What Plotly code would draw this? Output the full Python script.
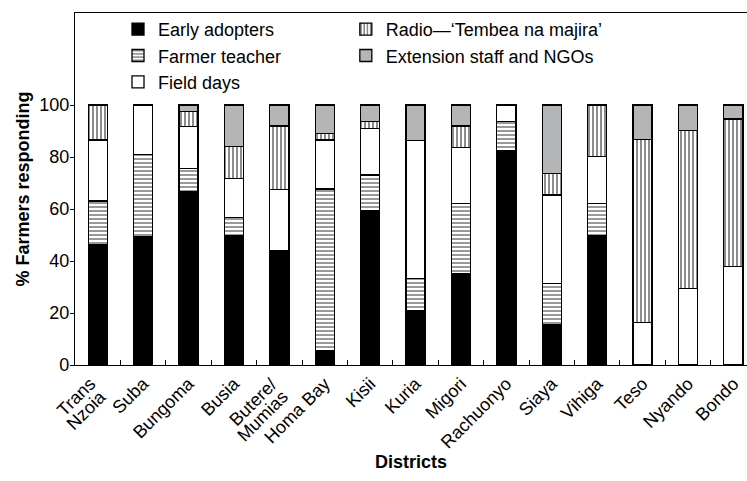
import plotly.graph_objects as go

districts = ["Trans Nzoia", "Suba", "Bungoma", "Busia", "Butere/ Mumias", "Homa Bay",
             "Kisii", "Kuria", "Migori", "Rachuonyo", "Siaya", "Vihiga", "Teso", "Nyando", "Bondo"]
# single-line tick labels; two-line labels are drawn as rotated annotations below
tick_text = ["", "Suba", "Bungoma", "Busia", "", "Homa Bay",
             "Kisii", "Kuria", "Migori", "Rachuonyo", "Siaya", "Vihiga", "Teso", "Nyando", "Bondo"]
two_line_labels = {"Trans Nzoia": ["Trans", "Nzoia"], "Butere/ Mumias": ["Butere/", "Mumias"]}

early_adopters = [46.2, 49.4, 66.7, 49.6, 44.0, 5.5, 59.2, 20.9, 35.3, 82.3, 15.4, 49.7, 0, 0, 0]
farmer_teacher = [16.9, 31.6, 8.9, 7.2, 0, 62.2, 13.9, 12.4, 26.9, 11.3, 16.0, 12.5, 0, 0, 0]
field_days = [23.4, 19.0, 16.1, 15.0, 23.6, 18.8, 17.9, 53.0, 21.4, 6.4, 34.0, 17.9, 16.3, 29.5, 37.8]
radio = [13.5, 0, 5.7, 12.2, 24.3, 2.6, 2.8, 0, 8.3, 0, 8.3, 19.9, 70.5, 60.6, 56.8]
extension = [0, 0, 2.6, 16.0, 8.1, 10.9, 6.2, 13.7, 8.1, 0, 26.3, 0, 13.2, 9.9, 5.4]

series = [
    ("Early adopters", early_adopters, dict(color="black"), "legend"),
    ("Farmer teacher", farmer_teacher,
     dict(color="white", pattern=dict(shape="-", fgcolor="black", bgcolor="white", size=4, solidity=0.4)), "legend"),
    ("Field days", field_days, dict(color="white"), "legend"),
    ("Radio\u2014\u2018Tembea na majira\u2019", radio,
     dict(color="white", pattern=dict(shape="|", fgcolor="black", bgcolor="white", size=4, solidity=0.45)), "legend2"),
    ("Extension staff and NGOs", extension, dict(color="#b3b5b7"), "legend2"),
]

fig = go.Figure()
for name, vals, marker, lg in series:
    m = dict(marker)
    m["line"] = dict(color="black", width=1.3)
    fig.add_trace(go.Bar(x=districts, y=vals, name=name, marker=m, width=0.42, legend=lg))

line_shifts = [(3, -8), (14, -20)]
for cat, lines in two_line_labels.items():
    for txt, (dx, dy) in zip(lines, line_shifts):
        fig.add_annotation(x=cat, y=0, xref="x", yref="y", text=txt, showarrow=False,
                           textangle=-45, xanchor="right", yanchor="top", xshift=dx, yshift=dy,
                           font=dict(size=18), borderpad=0)

font = "Liberation Sans, Arial, Helvetica, sans-serif"
legend_common = dict(orientation="v", yanchor="top", xanchor="left", traceorder="normal",
                     bgcolor="rgba(0,0,0,0)", font=dict(size=18), tracegroupgap=0)
fig.update_layout(
    width=747, height=481,
    barmode="stack",
    plot_bgcolor="white", paper_bgcolor="white",
    margin=dict(l=75, r=0, t=13, b=116),
    font=dict(family=font, size=18, color="black"),
    showlegend=True,
    legend=dict(x=0.064, y=1.006, **legend_common),
    legend2=dict(x=0.403, y=1.006, **legend_common),
    xaxis=dict(range=[-0.5, 14.3], showline=True, linecolor="black", linewidth=1.3, mirror=True,
               ticks="inside", ticklen=5, tickcolor="black", tickson="boundaries",
               tickmode="array", tickvals=districts, ticktext=tick_text,
               tickangle=-45, showgrid=False, automargin=False,
               title=dict(text="<b>Districts</b>", font=dict(size=18), standoff=4)),
    yaxis=dict(range=[0, 135.4], tickvals=[0, 20, 40, 60, 80, 100], showline=True, linecolor="black",
               linewidth=1.3, ticks="outside", ticklen=4, tickcolor="black", showgrid=False,
               zeroline=False, automargin=False, ticklabelstandoff=-3,
               title=dict(text="<b>% Farmers responding</b>", font=dict(size=18), standoff=4)),
)

fig.write_html("out.html", config={"displayModeBar": False},
               post_script="document.body.style.margin='0';document.body.style.overflow='hidden';")
